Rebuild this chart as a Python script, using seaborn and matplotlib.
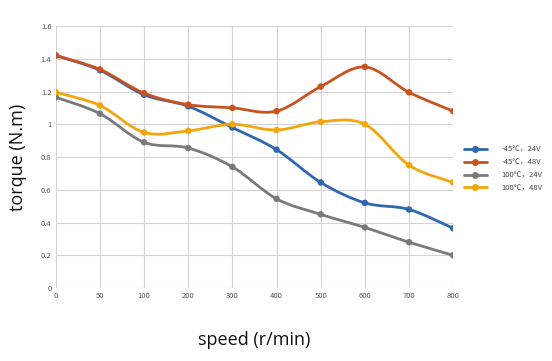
import numpy as np
import pandas as pd
import matplotlib
matplotlib.use("Agg")
import matplotlib.pyplot as plt
import seaborn as sns
from matplotlib.path import Path
from matplotlib.patches import PathPatch

speed = ['0', '50', '100', '200', '300', '400', '500', '600', '700', '800']
t_m45_24 = [1.42, 1.33, 1.18, 1.11, 0.98, 0.845, 0.645, 0.52, 0.48, 0.365]
t_m45_48 = [1.42, 1.335, 1.19, 1.12, 1.10, 1.08, 1.23, 1.35, 1.195, 1.08]
t_100_24 = [1.165, 1.065, 0.89, 0.855, 0.74, 0.545, 0.45, 0.37, 0.28, 0.20]
t_100_48 = [1.195, 1.115, 0.95, 0.96, 1.0, 0.965, 1.015, 1.0, 0.75, 0.645]
names = ['-45℃，24V', '-45℃，48V', '100℃，24V', '100℃，48V']
colors = ['#2F68AE', '#C9531F', '#7A7A7A', '#F2A60C']

sns.set_theme(style="whitegrid")
plt.rcParams['font.family'] = ['Noto Sans CJK SC', 'DejaVu Sans']

rows = []
for name, vals in zip(names, [t_m45_24, t_m45_48, t_100_24, t_100_48]):
    for i, v in enumerate(vals):
        rows.append({'pos': i, 'speed': speed[i], 'torque': v, 'series': name})
df = pd.DataFrame(rows)

fig = plt.figure(figsize=(5.52, 3.61), dpi=100)
ax = fig.add_axes([0.101, 0.202, 0.720, 0.726])


def smooth_path(xs, ys):
    # excel-style smoothed line: cubic bezier through each point
    pts = np.column_stack([xs, ys]).astype(float)
    verts = [pts[0]]
    codes = [Path.MOVETO]
    n = len(pts)
    for i in range(n - 1):
        p0 = pts[i - 1] if i > 0 else pts[i]
        p1 = pts[i]
        p2 = pts[i + 1]
        p3 = pts[i + 2] if i + 2 < n else pts[i + 1]
        c1 = p1 + (p2 - p0) / 6.0
        c2 = p2 - (p3 - p1) / 6.0
        verts += [c1, c2, p2]
        codes += [Path.CURVE4] * 3
    return Path(verts, codes)


for name, col in zip(names, colors):
    sub = df[df['series'] == name]
    ax.add_patch(PathPatch(smooth_path(sub['pos'], sub['torque']), fill=False,
                           edgecolor=col, linewidth=2, zorder=3))

sns.scatterplot(data=df, x='pos', y='torque', hue='series', palette=colors,
                s=22, edgecolor='none', ax=ax, zorder=4, legend=False)

ax.set_xlim(0, 9)
ax.set_ylim(0, 1.6)
ax.set_xticks(range(len(speed)))
ax.set_xticklabels(speed)
ax.set_yticks([0, 0.2, 0.4, 0.6, 0.8, 1.0, 1.2, 1.4, 1.6])
ax.set_yticklabels(['0', '0.2', '0.4', '0.6', '0.8', '1', '1.2', '1.4', '1.6'])
ax.tick_params(axis='both', labelsize=5.5, colors='#555555', length=0, pad=3)
ax.grid(True, color='#D4D4D4', linewidth=0.8)
ax.set_facecolor('white')
for s in ax.spines.values():
    s.set_visible(False)
ax.set_xlabel('speed (r/min)', fontsize=13, color='#111111', labelpad=22,
              family=['Open Sans', 'DejaVu Sans'])
ax.set_ylabel('torque (N.m)', fontsize=13, color='#111111', labelpad=10,
              family=['Open Sans', 'DejaVu Sans'])

handles = [plt.Line2D([0], [0], color=c, linewidth=2, marker='o', markersize=4)
           for c in colors]
leg = ax.legend(handles, names, loc='center left', bbox_to_anchor=(1.01, 0.455),
                frameon=False, fontsize=5.5, handlelength=3.0, labelspacing=0.62,
                handletextpad=1.9)
for t in leg.get_texts():
    t.set_color('#444444')

fig.savefig('out.png', dpi=100)
